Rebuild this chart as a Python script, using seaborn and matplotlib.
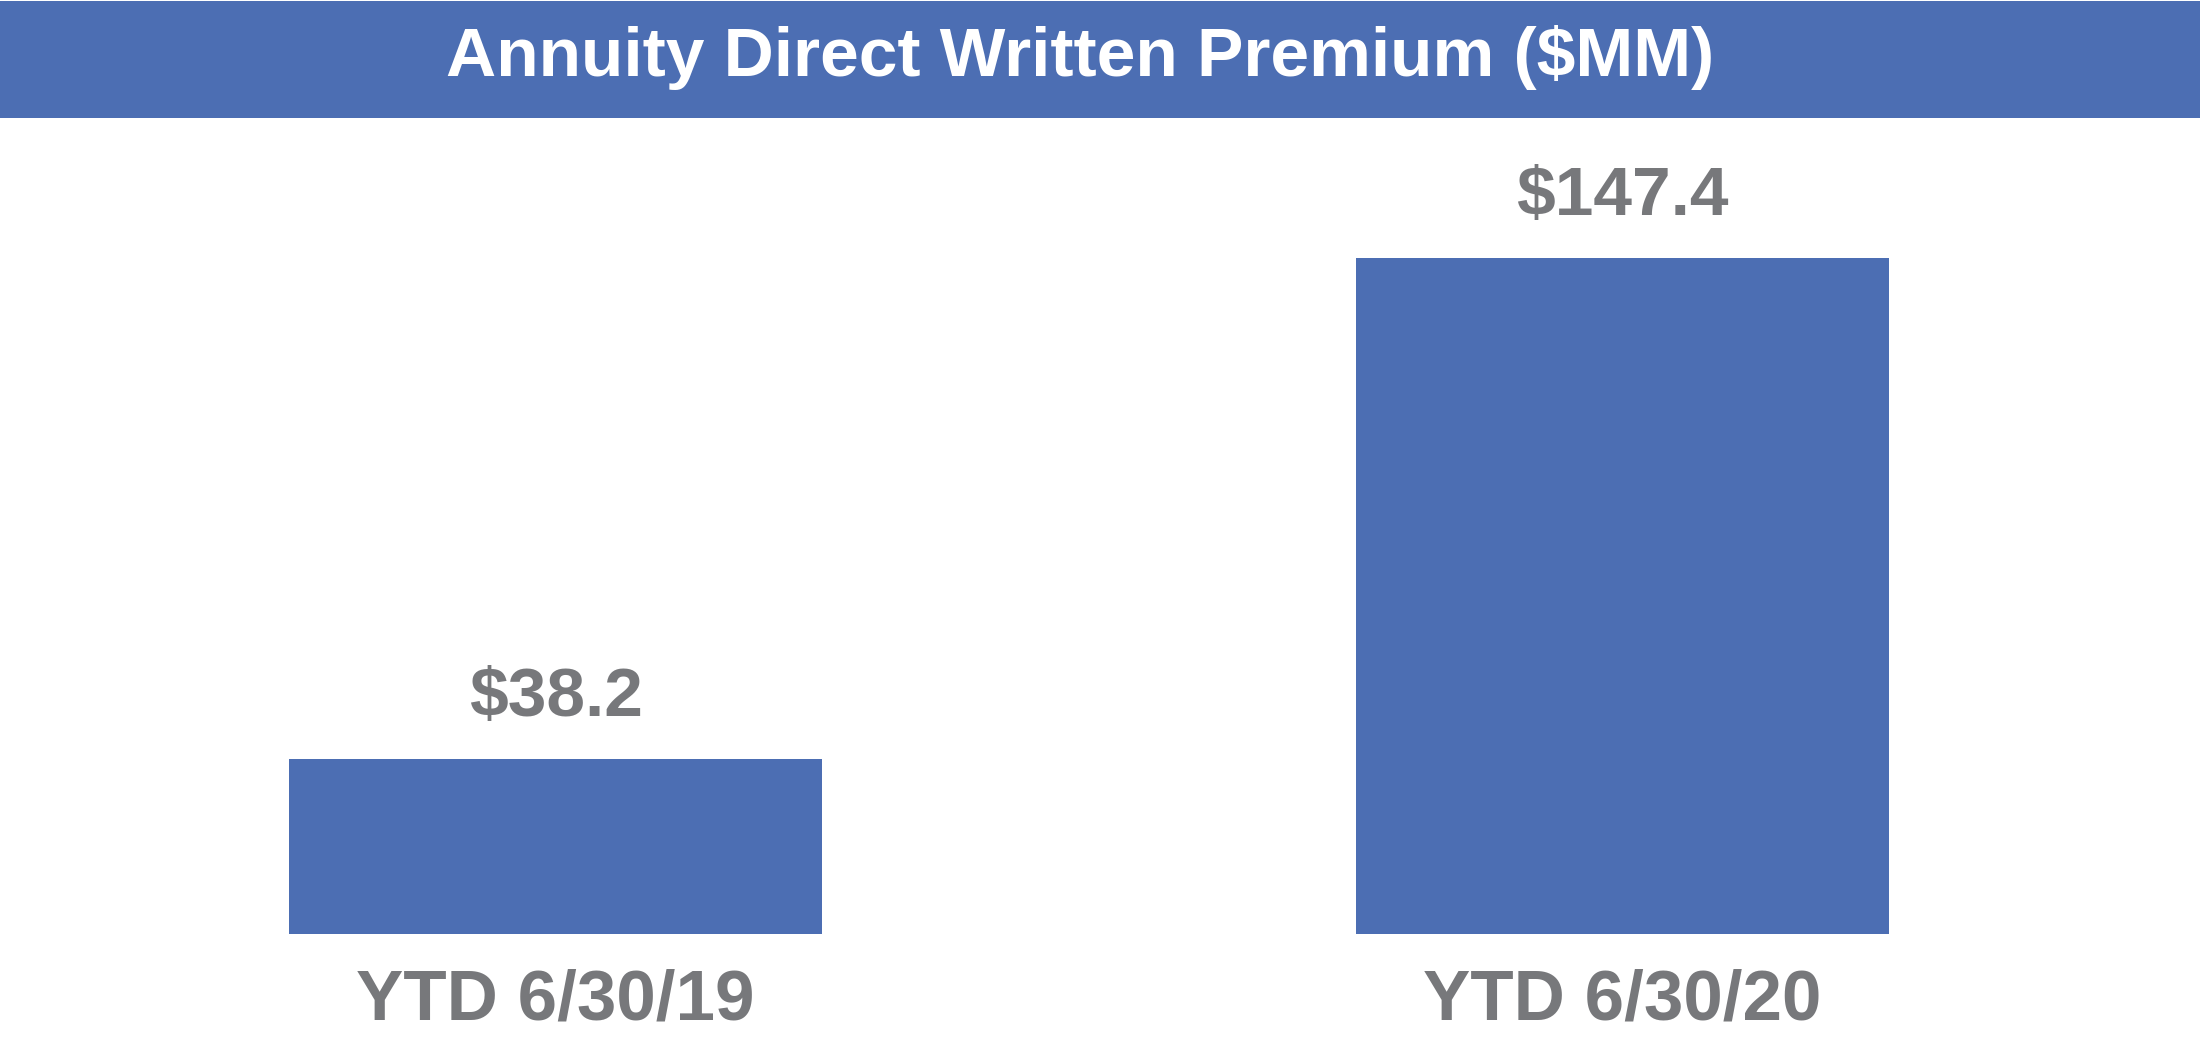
import matplotlib
matplotlib.use("Agg")
import matplotlib.pyplot as plt
import seaborn as sns
import pandas as pd
from matplotlib.patches import Rectangle

periods = ["YTD 6/30/19", "YTD 6/30/20"]
premium = [38.2, 147.4]
value_labels = ["$38.2", "$147.4"]
title = "Annuity Direct Written Premium ($MM)"

BLUE = "#4C6EB3"
GRAY = "#77787B"

sns.set_theme(style="white")
plt.rcParams["font.family"] = ["Liberation Sans", "DejaVu Sans"]

W, H = 2200, 1050
fig = plt.figure(figsize=(W / 100, H / 100), dpi=100)

# axes spanning full width, from bar base to bottom of title bar
ax_bottom = (H - 934) / H
ax_top = (H - 118) / H
ax = fig.add_axes([0, ax_bottom, 1, ax_top - ax_bottom])

df = pd.DataFrame({"period": periods, "premium": premium})
sns.barplot(data=df, x="period", y="premium", color=BLUE, saturation=1,
            width=0.5, ax=ax, edgecolor="none")

ax.set_xlim(-555.5 / 1067, (W - 555.5) / 1067)
ax.set_ylim(0, 816 / 4.586)
ax.set_xlabel("")
ax.set_ylabel("")
ax.set_yticks([])
for s in ax.spines.values():
    s.set_visible(False)
ax.tick_params(axis="x", length=0, pad=25, labelsize=51, labelcolor=GRAY)
for t in ax.get_xticklabels():
    t.set_fontweight("bold")

for i, (v, lab) in enumerate(zip(premium, value_labels)):
    ax.annotate(lab, (i, v), xytext=(0, 21), textcoords="offset points",
                ha="center", va="bottom", fontsize=50, fontweight="bold",
                color=GRAY)

# title bar
fig.patches.append(Rectangle((0, (H - 118) / H), 1, 117 / H,
                             transform=fig.transFigure, facecolor=BLUE,
                             edgecolor="none", zorder=0))
fig.text(1080 / W, (H - 58) / H, title, ha="center", va="center",
         fontsize=50, fontweight="bold", color="white")

fig.savefig("out.png", dpi=100, facecolor="white")
